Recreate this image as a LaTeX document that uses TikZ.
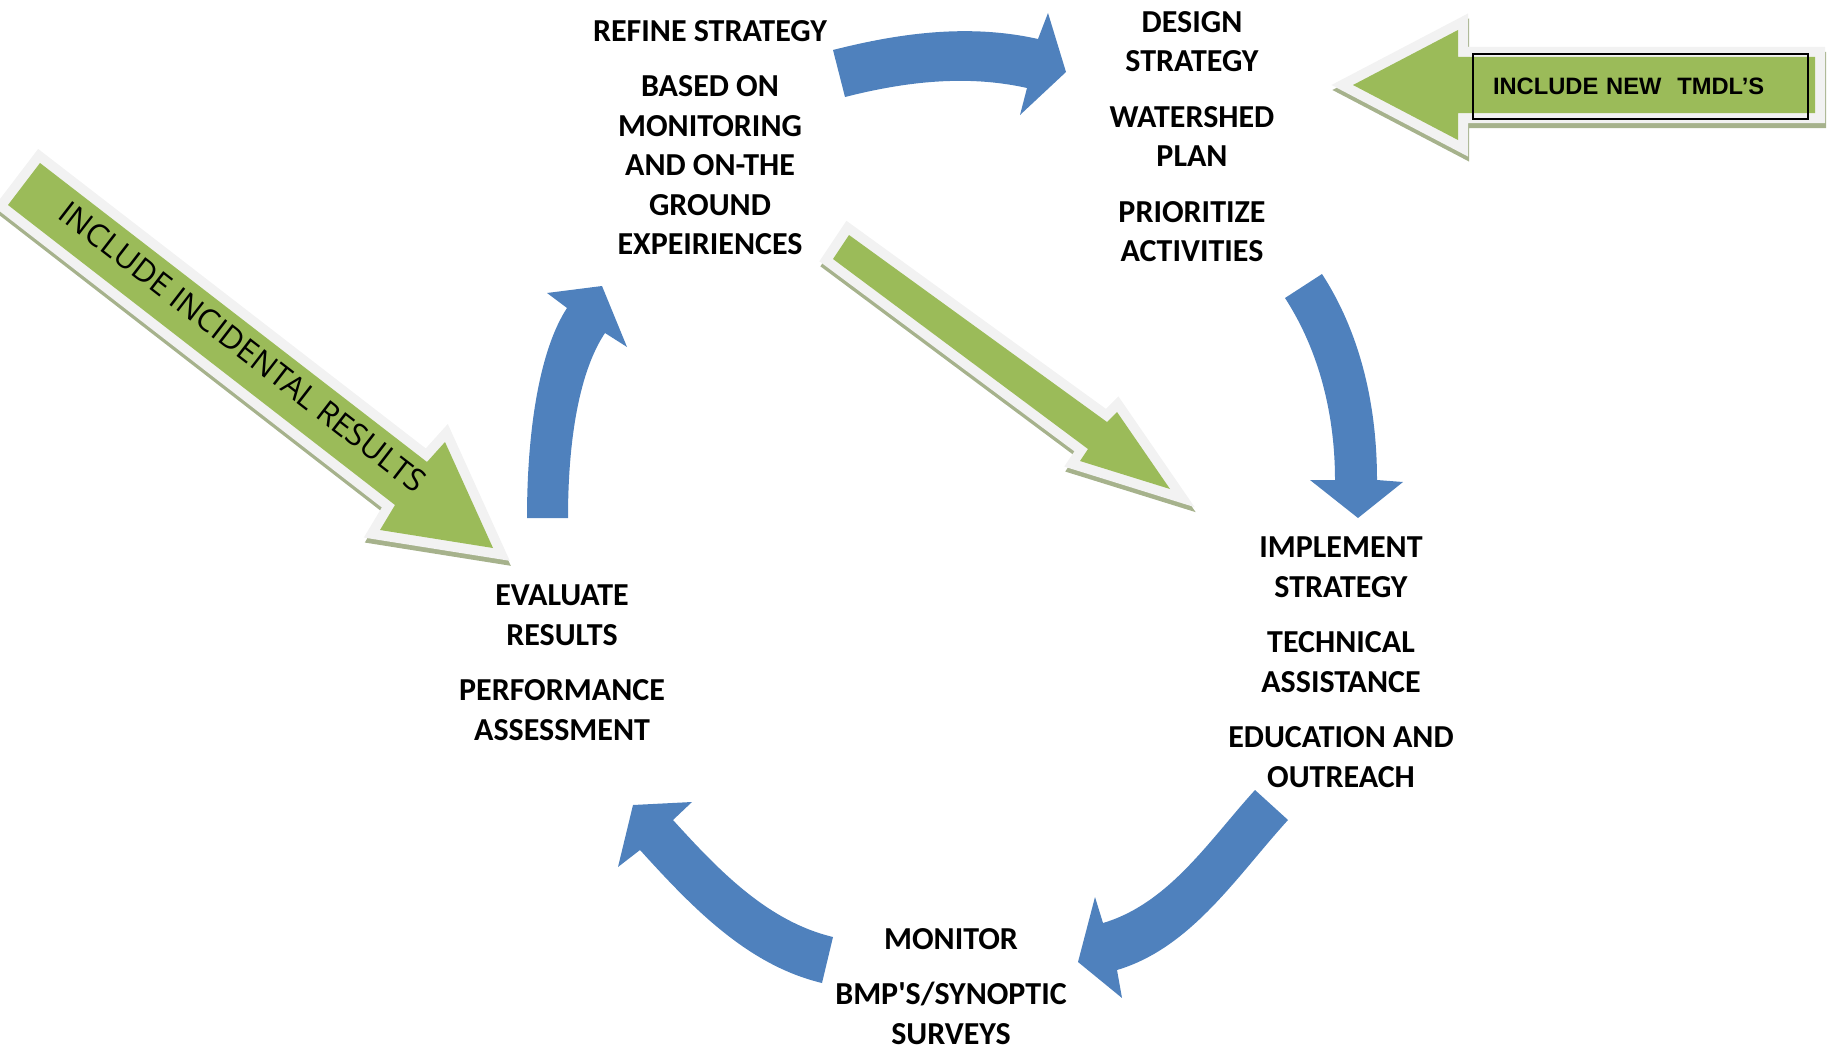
\documentclass[tikz,border=0pt]{standalone}
\usepackage{fontspec}
\setmainfont{Carlito}
\newfontfamily\notefont{Open Sans}
\newfontfamily\boxfont{Liberation Sans}
\usetikzlibrary{positioning}

\definecolor{stepblue}{RGB}{79,129,189}
\definecolor{notegreen}{RGB}{155,187,89}
\definecolor{noteborder}{RGB}{242,242,242}
\definecolor{noteshadow}{RGB}{166,178,140}

\tikzset{
	steptext/.style={align=center, inner sep=0pt, anchor=north,
		font=\bfseries\fontsize{32}{39.5}\selectfont},
	bluearrow/.style={fill=stepblue},
}

% green block arrow with light border and a drop shadow
\newcommand{\notearrow}[1]{%
	\filldraw[noteshadow, line width=20pt, line join=miter, shift={(1,5)}] #1 -- cycle;
	\draw[noteborder, line width=20pt, line join=miter] #1 -- cycle;
	\fill[notegreen] #1 -- cycle;}

\begin{document}
\begin{tikzpicture}[x=1pt,y=-1pt]
	\useasboundingbox (0,0) rectangle (1832,1049);

	% the five steps
	\node[steptext] (refine) at (710,20) {REFINE STRATEGY\\[16pt] BASED ON\\ MONITORING\\ AND ON-THE\\ GROUND\\ EXPEIRIENCES};
	\node[steptext] (design) at (1192,11) {DESIGN\\ STRATEGY\\[16pt] WATERSHED\\ PLAN\\[16pt] PRIORITIZE\\ ACTIVITIES};
	\node[steptext] (implement) at (1341,537) {IMPLEMENT\\ STRATEGY\\[16pt] TECHNICAL\\ ASSISTANCE\\[16pt] EDUCATION AND\\ OUTREACH};
	\node[steptext] (monitor) at (951,928) {MONITOR\\[16pt] BMP\textquotesingle S/SYNOPTIC\\ SURVEYS};
	\node[steptext] (evaluate) at (562,585) {EVALUATE\\ RESULTS\\[16pt] PERFORMANCE\\ ASSESSMENT};

	% blue cycle arrows
	\fill[bluearrow] (833,50) .. controls (900.8,32.7) and (969.7,23.7) .. (1038,39) -- (1048,13) -- (1066,72) -- (1020,115) -- (1027,88) .. controls (966.5,74.4) and (905.1,81.7) .. (845,97) -- cycle;
	\fill[bluearrow] (1285,298) -- (1322,274) .. controls (1361.4,334.8) and (1377,407.5) .. (1377,480) -- (1403,482) -- (1358,518) -- (1310,480) -- (1335,480) .. controls (1335,416) and (1319.8,351.7) .. (1285,298) -- cycle;
	\fill[bluearrow] (1255,790) .. controls (1208.8,840.8) and (1168.9,903.4) .. (1103,923) -- (1095,897) -- (1078,962) -- (1122,998) -- (1117,970) .. controls (1191.1,947.9) and (1236,877.2) .. (1288,820) -- cycle;
	\fill[bluearrow] (833,937) .. controls (767.3,921.3) and (718.5,870) .. (673,820) -- (692,802) -- (633,805) -- (618,867) -- (640,850) .. controls (691.8,907) and (747.1,965.1) .. (822,983) -- cycle;
	\fill[bluearrow] (527,518) .. controls (527,430) and (539.6,349.8) .. (567,308) -- (547,293) -- (602,286) -- (627,347) -- (605,333) .. controls (579.8,370.6) and (568,438) .. (568,518) -- cycle;

	% green arrows
	\notearrow{(40,163) -- (427,462) -- (445,442) -- (493,548) -- (380,530) -- (395,505) -- (8,205)}
	\notearrow{(849,235) -- (1107,422) -- (1117,412) -- (1170,489) -- (1080,461) -- (1088,449) -- (833,259)}
	\notearrow{(1353,85) -- (1458,30) -- (1458,57) -- (1815,57) -- (1815,113) -- (1458,113) -- (1458,140)}

	\node[rotate=-37.7, inner sep=0pt, font=\notefont\fontsize{31.5}{31.5}\selectfont] (incidental) at (243,347) {INCLUDE INCIDENTAL RESULTS};
	\node[draw=black, line width=2pt, anchor=west, inner xsep=20pt, text width=295pt, minimum height=65pt, align=left,
		font=\boxfont\bfseries\fontsize{23.7}{24}\selectfont] (tmdl) at (1472,86.5) {INCLUDE NEW\ \ TMDL’S};
\end{tikzpicture}
\end{document}
